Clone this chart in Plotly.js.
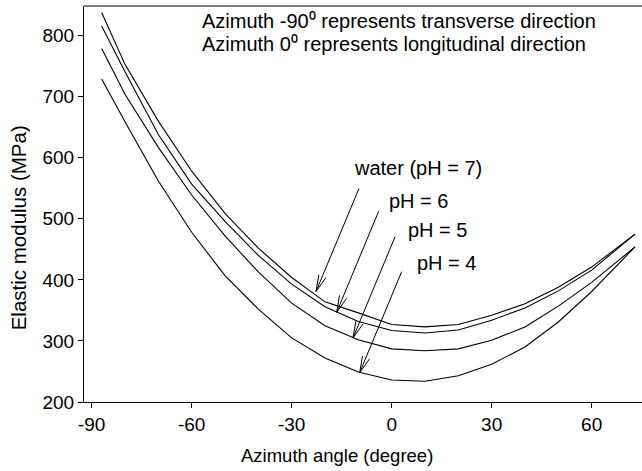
<!DOCTYPE html>
<html>
<head>
<meta charset="utf-8">
<script src="https://cdn.plot.ly/plotly-3.0.1.min.js"></script>
<style>html,body{margin:0;padding:0;background:#fff;}#chart{width:642px;height:471px;}</style>
</head>
<body>
<div id="chart"></div>
<script>
// Azimuth angle (degree)
const azimuth = [-87, -80, -70, -60, -50, -40, -30, -20, -10, 0, 10, 20, 30, 40, 50, 60, 73];
// Elastic modulus (MPa) for each immersion medium
const water = [838, 753, 660, 578, 509, 452, 404, 364, 346, 327, 323, 327, 342, 361, 388, 421, 475];
const pH6   = [816, 741, 638, 557, 496, 440, 393, 356, 332, 317, 313, 318, 334, 354, 382, 416, 475];
const pH5   = [779, 704, 617, 539, 472, 413, 362, 325, 302, 287, 284, 287, 301, 323, 357, 396, 454];
const pH4   = [729, 659, 562, 478, 407, 352, 305, 272, 249, 236, 234, 243, 262, 290, 331, 381, 454];
const seriesNames = ['water (pH = 7)', 'pH = 6', 'pH = 5', 'pH = 4'];
const xTicks = [-90, -60, -30, 0, 30, 60];
const yTicks = [200, 300, 400, 500, 600, 700, 800];

const FONT = 'Liberation Sans, Arial, Helvetica, sans-serif';
const allSeries = [water, pH6, pH5, pH4];
const traces = allSeries.map((ys, i) => ({
  type: 'scatter', mode: 'lines', x: azimuth, y: ys, name: seriesNames[i],
  line: {color: '#000', width: 1.1}, showlegend: false, hoverinfo: 'x+y'
}));

// label annotations: [text, x, y, arrow tip x, arrow tip y, tail dx(px, right), tail dy(px, down)]
const labels = [
  ['water (pH = 7)', -11.9, 583, -22.7, 381, 43, -103],
  ['pH = 6', -1.4, 529, -16.5, 347, 42, -101],
  ['pH = 5', 4.2, 481, -11.6, 305, 42, -101],
  ['pH = 4', 7.0, 427, -9.6, 248, 42, -101]
];
const annotations = [];
const shapes = [{type: 'line', xref: 'paper', yref: 'paper', x0: 0, x1: 1, y0: 1, y1: 1, line: {color: '#000', width: 1}}];
function pixLine(xa, ya, dx, dy) {
  // dx, dy in screen pixels (dy positive downward)
  return {type: 'line', xref: 'x', yref: 'y', xsizemode: 'pixel', ysizemode: 'pixel',
    xanchor: xa, yanchor: ya, x0: 0, y0: 0, x1: dx, y1: -dy, line: {color: '#000', width: 1}};
}
labels.forEach(l => {
  annotations.push({x: l[1], y: l[2], text: l[0], showarrow: false, xanchor: 'left', yanchor: 'middle',
    font: {family: FONT, size: 20, color: '#000'}});
  shapes.push(pixLine(l[3], l[4], l[5], l[6]));
  const L = Math.hypot(l[5], l[6]);
  const ux = l[5] / L, uy = l[6] / L;
  const th = 13 * Math.PI / 180, arm = 17;
  [th, -th].forEach(t => {
    const rx = ux * Math.cos(t) - uy * Math.sin(t);
    const ry = ux * Math.sin(t) + uy * Math.cos(t);
    shapes.push(pixLine(l[3], l[4], rx * arm, ry * arm));
  });
});
annotations.push({xref: 'paper', yref: 'paper', x: 0.208, y: 0.962, xanchor: 'left', yanchor: 'middle', align: 'left',
  showarrow: false, text: 'Azimuth -90\u2070 represents transverse direction',
  font: {family: FONT, size: 20, color: '#000'}});
annotations.push({xref: 'paper', yref: 'paper', x: 0.208, y: 0.904, xanchor: 'left', yanchor: 'middle', align: 'left',
  showarrow: false, text: 'Azimuth 0\u2070 represents longitudinal direction',
  font: {family: FONT, size: 20, color: '#000'}});
// axis titles placed as in the reference
annotations.push({xref: 'paper', yref: 'paper', x: 0.4534, y: -0.136, xanchor: 'center', yanchor: 'middle',
  showarrow: false, text: 'Azimuth angle (degree)', font: {family: FONT, size: 18.5, color: '#000'}});
annotations.push({xref: 'paper', yref: 'paper', x: -0.118, y: 0.439, xanchor: 'center', yanchor: 'middle',
  showarrow: false, textangle: -90, text: 'Elastic modulus (MPa)', font: {family: FONT, size: 20.5, color: '#000'}});

const layout = {
  width: 642, height: 471,
  margin: {l: 84, r: 0, t: 6, b: 69, pad: 0},
  paper_bgcolor: '#fff', plot_bgcolor: '#fff',
  font: {family: FONT, size: 19, color: '#000'},
  xaxis: {range: [-92.3, 75.1], tickvals: xTicks, ticktext: xTicks.map(String), ticks: 'outside', ticklen: 5,
    tickcolor: '#000', tickwidth: 1, showline: true, linecolor: '#000', linewidth: 1, mirror: false,
    showgrid: false, zeroline: false, tickfont: {family: FONT, size: 19, color: '#000'}},
  yaxis: {range: [200, 848.6], tickvals: yTicks, ticktext: yTicks.map(String), ticks: 'outside', ticklen: 5,
    tickcolor: '#000', tickwidth: 1, showline: true, linecolor: '#000', linewidth: 1, mirror: false,
    showgrid: false, zeroline: false, tickfont: {family: FONT, size: 19, color: '#000'}},
  shapes: shapes,
  annotations: annotations,
  showlegend: false
};
Plotly.newPlot('chart', traces, layout, {displayModeBar: false, staticPlot: true});
</script>
</body>
</html>
